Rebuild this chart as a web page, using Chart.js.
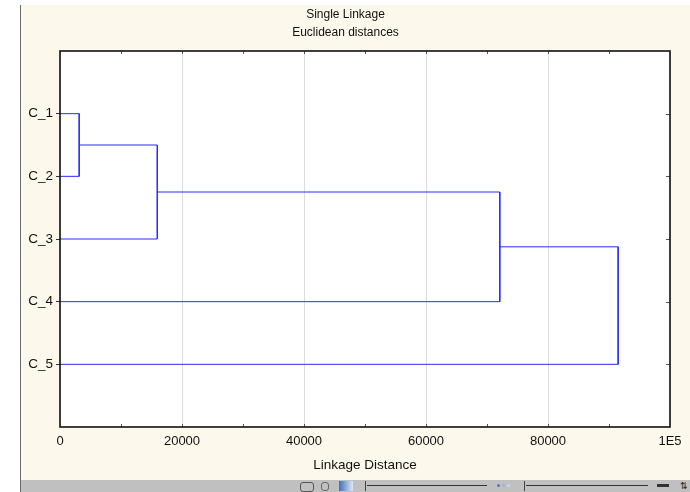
<!DOCTYPE html>
<html>
<head>
<meta charset="utf-8">
<script src="https://cdn.jsdelivr.net/npm/chart.js@4"></script>
<style>
    html, body { margin: 0; padding: 0; background: #ffffff; }
    body { width: 690px; height: 492px; position: relative; overflow: hidden; }
    #edge { position: absolute; left: 20px; top: 5px; width: 1px; height: 487px; background: #6b6b6b; }
    #panel { position: absolute; left: 21px; top: 5px; width: 669px; height: 475px; background: #fdf8ec; }
    #toolbar { position: absolute; left: 21px; top: 480px; width: 669px; height: 12px; background: #c0c0c0; }
    #toolbar div { position: absolute; }
    .rail { top: 5px; height: 1px; background: #333; }
    .knob { top: 1px; width: 1px; height: 10px; background: #444; }
</style>
</head>
<body>
<div id="edge"></div>
<div id="panel"><canvas id="dendro" width="669" height="475"></canvas></div>
<div id="toolbar">
    <div style="left:279px;top:2px;width:12px;height:8px;border:1px solid #555;border-radius:3px;"></div>
    <div style="left:300px;top:2px;width:6px;height:7px;border:1px solid #666;border-radius:3px;"></div>
    <div style="left:318px;top:1px;width:14px;height:10px;background:linear-gradient(to right,#3f6fb8,#dfe8f6);"></div>
    <div class="knob" style="left:344px;"></div>
    <div class="rail" style="left:346px;width:120px;"></div>
    <div style="left:476px;top:4px;width:3px;height:3px;border-radius:2px;background:#4a7cc4;"></div>
    <div style="left:481px;top:4px;width:3px;height:3px;border-radius:2px;background:#9ab4dc;"></div>
    <div style="left:486px;top:4px;width:3px;height:3px;border-radius:2px;background:#c8d6ec;"></div>
    <div class="knob" style="left:503px;"></div>
    <div class="rail" style="left:505px;width:122px;"></div>
    <div style="left:636px;top:4px;width:12px;height:3px;background:#333;"></div>
    <div style="left:659px;top:1px;font:9px 'Liberation Sans',Arial,sans-serif;color:#222;line-height:10px;">&#8645;</div>
</div>

<script>
// Leaves, in the order they are drawn from top to bottom
const leafLabels = ['C_1', 'C_2', 'C_3', 'C_4', 'C_5'];

// Each merge joins two nodes (0-4 leaves, 5+ earlier merges) at a linkage distance
const mergePairs = [[0, 1], [5, 2], [6, 3], [7, 4]];
const mergeDistances = [3150, 15950, 72100, 91500];

// Distance axis
const xTickValues = [0, 20000, 40000, 60000, 80000, 100000];
const xTickLabels = ['0', '20000', '40000', '60000', '80000', '1E5'];
const xMinorTicks = [10000, 20000, 30000, 40000, 50000, 60000, 70000, 80000, 90000];

const FONT = "'Liberation Sans', Arial, sans-serif";
const LINK_COLOR = '#2b2bff';

// Walk the merges to get node positions and the bracket for each link
const nodes = leafLabels.map((_, i) => ({ x: 0, y: i + 1 }));
const datasets = [];
mergePairs.forEach((pair, k) => {
    const a = nodes[pair[0]];
    const b = nodes[pair[1]];
    const h = mergeDistances[k];
    datasets.push({
        data: [
            { x: a.x, y: a.y },
            { x: h, y: a.y },
            { x: h, y: b.y },
            { x: b.x, y: b.y }
        ],
        showLine: true,
        borderColor: LINK_COLOR,
        borderWidth: 1,
        pointRadius: 0,
        tension: 0
    });
    nodes.push({ x: h, y: (a.y + b.y) / 2 });
});

// White plot area, black frame and the small inward ticks
const framePlugin = {
    id: 'frame',
    beforeDraw(chart) {
        const { ctx, chartArea: a } = chart;
        ctx.save();
        ctx.fillStyle = '#ffffff';
        ctx.fillRect(a.left, a.top, a.right - a.left, a.bottom - a.top);
        ctx.restore();
    },
    afterDraw(chart) {
        const { ctx, chartArea: a, scales } = chart;
        ctx.save();
        ctx.strokeStyle = '#555';
        ctx.lineWidth = 1;
        ctx.beginPath();
        xMinorTicks.forEach(v => {
            const px = Math.round(scales.x.getPixelForValue(v)) + 0.5;
            ctx.moveTo(px, a.top);
            ctx.lineTo(px, a.top + 3);
            ctx.moveTo(px, a.bottom);
            ctx.lineTo(px, a.bottom - 3);
        });
        leafLabels.forEach((_, i) => {
            const py = Math.round(scales.y.getPixelForValue(i + 1)) + 0.5;
            ctx.moveTo(a.right, py);
            ctx.lineTo(a.right - 4, py);
        });
        ctx.stroke();
        ctx.strokeStyle = '#111';
        ctx.lineWidth = 1.6;
        ctx.strokeRect(a.left, a.top, a.right - a.left, a.bottom - a.top);
        ctx.restore();
    }
};

new Chart(document.getElementById('dendro'), {
    type: 'scatter',
    data: { datasets: datasets },
    options: {
        responsive: false,
        animation: false,
        layout: { padding: { left: 0, right: 20, top: 0, bottom: 0 } },
        plugins: {
            legend: { display: false },
            tooltip: { enabled: false },
            title: {
                display: true,
                text: ['Single Linkage', 'Euclidean distances'],
                color: '#111',
                font: { family: FONT, size: 12, weight: 'normal', lineHeight: 1.5 },
                padding: { top: 1, bottom: 9 }
            }
        },
        scales: {
            x: {
                type: 'linear',
                position: 'bottom',
                min: 0,
                max: 100000,
                afterBuildTicks: s => { s.ticks = xTickValues.map(v => ({ value: v })); },
                afterFit: s => { s.height = 53; },
                ticks: {
                    callback: (v, i) => xTickLabels[i],
                    color: '#111',
                    font: { family: FONT, size: 13 },
                    padding: 7,
                    maxRotation: 0,
                    autoSkip: false
                },
                grid: { color: '#dcdcdc', lineWidth: 1, drawTicks: false },
                border: { display: false },
                title: {
                    display: true,
                    text: 'Linkage Distance',
                    color: '#111',
                    font: { family: FONT, size: 13.5 },
                    padding: { top: 0, bottom: 7 }
                }
            },
            y: {
                type: 'linear',
                min: 0,
                max: 6,
                reverse: true,
                afterBuildTicks: s => { s.ticks = leafLabels.map((_, i) => ({ value: i + 1 })); },
                afterFit: s => { s.width = 39; },
                ticks: {
                    callback: v => leafLabels[v - 1],
                    color: '#111',
                    font: { family: FONT, size: 13.5 },
                    padding: 3
                },
                grid: { drawOnChartArea: false, drawTicks: true, tickLength: 4, color: '#333' },
                border: { display: false }
            }
        }
    },
    plugins: [framePlugin]
});
</script>
</body>
</html>
